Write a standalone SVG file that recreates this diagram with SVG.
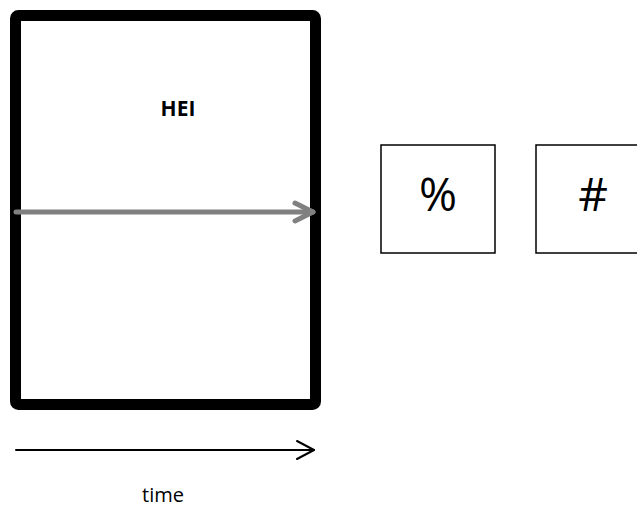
<svg xmlns="http://www.w3.org/2000/svg" width="637" height="507" viewBox="0 0 637 507">
<style>
.lbl{font-family:"Open Sans","Liberation Sans",sans-serif;fill:#000;text-anchor:middle}
.box{fill:#fff;stroke:#000;stroke-width:1.5}
</style>
<rect width="637" height="507" fill="#fff"/>
<g id="main">
<rect x="15.5" y="15.5" width="300" height="389" rx="3" fill="#fff" stroke="#000" stroke-width="11"/>
<text class="lbl" x="178" y="116" font-size="21" font-weight="bold">HEI</text>
</g>
<g id="pct">
<rect class="box" x="381" y="145" width="114" height="108"/>
<text class="lbl" x="438" y="211" font-size="46">%</text>
</g>
<g id="hash">
<rect class="box" x="536" y="145" width="114" height="108"/>
<text class="lbl" x="593" y="211" font-size="46">#</text>
</g>
<g id="connectors" fill="none" stroke-linecap="round" stroke-linejoin="round">
<g stroke="#808080" stroke-width="5">
<line x1="16" y1="212" x2="313" y2="212"/>
<polyline points="295,203 313,212 295,221"/>
</g>
<g stroke="#000" stroke-width="2">
<line x1="16" y1="450" x2="314" y2="450"/>
<polyline points="297,441 314,450 297,459"/>
</g>
</g>
<text class="lbl" x="163" y="502" font-size="20">time</text>
</svg>
